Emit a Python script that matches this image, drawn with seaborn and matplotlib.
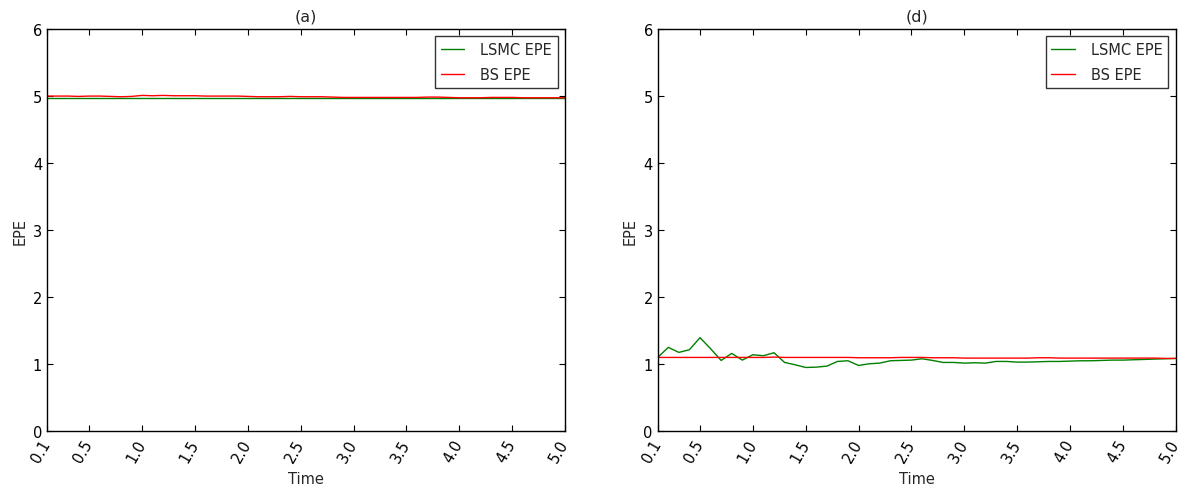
import numpy as np
import pandas as pd
import seaborn as sns
import matplotlib
matplotlib.use("Agg")
import matplotlib.pyplot as plt

# ---- data ----
time = [0.1, 0.2, 0.3, 0.4, 0.5, 0.6, 0.7, 0.8, 0.9, 1.0,
        1.1, 1.2, 1.3, 1.4, 1.5, 1.6, 1.7, 1.8, 1.9, 2.0,
        2.1, 2.2, 2.3, 2.4, 2.5, 2.6, 2.7, 2.8, 2.9, 3.0,
        3.1, 3.2, 3.3, 3.4, 3.5, 3.6, 3.7, 3.8, 3.9, 4.0,
        4.1, 4.2, 4.3, 4.4, 4.5, 4.6, 4.7, 4.8, 4.9, 5.0]

lsmc_a = [4.965] * 10 + [4.965] * 10 + [4.965] * 10 + [4.965] * 10 + [4.965] * 10
bs_a = [5.000, 5.000, 5.000, 4.995, 5.000, 5.000, 4.995, 4.990, 4.995, 5.010,
        5.005, 5.010, 5.005, 5.005, 5.005, 5.000, 5.000, 5.000, 5.000, 4.995,
        4.990, 4.990, 4.990, 4.995, 4.990, 4.990, 4.990, 4.985, 4.980, 4.980,
        4.980, 4.980, 4.980, 4.980, 4.980, 4.980, 4.985, 4.985, 4.980, 4.975,
        4.975, 4.975, 4.980, 4.980, 4.980, 4.975, 4.975, 4.975, 4.975, 4.975]

lsmc_d = [1.100, 1.250, 1.175, 1.215, 1.395, 1.230, 1.055, 1.160, 1.060, 1.140,
          1.125, 1.170, 1.025, 0.990, 0.950, 0.955, 0.970, 1.040, 1.050, 0.980,
          1.005, 1.015, 1.050, 1.055, 1.060, 1.080, 1.055, 1.025, 1.025, 1.015,
          1.020, 1.015, 1.040, 1.040, 1.030, 1.030, 1.035, 1.040, 1.040, 1.045,
          1.050, 1.050, 1.055, 1.060, 1.060, 1.065, 1.070, 1.075, 1.080, 1.085]
bs_d = [1.100, 1.100, 1.100, 1.100, 1.100, 1.100, 1.100, 1.100, 1.100, 1.100,
        1.100, 1.105, 1.100, 1.100, 1.100, 1.100, 1.100, 1.100, 1.100, 1.095,
        1.095, 1.095, 1.095, 1.100, 1.100, 1.100, 1.095, 1.095, 1.095, 1.090,
        1.090, 1.090, 1.090, 1.090, 1.090, 1.090, 1.095, 1.095, 1.090, 1.090,
        1.090, 1.090, 1.090, 1.090, 1.090, 1.090, 1.090, 1.090, 1.085, 1.085]

titles = ["(a)", "(d)"]
series_labels = ["LSMC EPE", "BS EPE"]
xtick_vals = [0.1, 0.5, 1.0, 1.5, 2.0, 2.5, 3.0, 3.5, 4.0, 4.5, 5.0]
xtick_labels = ["0.1", "0.5", "1.0", "1.5", "2.0", "2.5", "3.0", "3.5", "4.0", "4.5", "5.0"]
ytick_vals = [0, 1, 2, 3, 4, 5, 6]

sns.set_style("ticks", {
    "xtick.direction": "in", "ytick.direction": "in",
    "xtick.top": True, "ytick.right": True,
    "axes.edgecolor": "black",
})
plt.rcParams["font.family"] = ["DejaVu Sans"]
plt.rcParams["font.size"] = 10

fig, axes = plt.subplots(1, 2, figsize=(11.84, 4.85), dpi=100)
fig.subplots_adjust(left=0.0397, right=0.993, top=0.938, bottom=0.109, wspace=0.179)

panels = [(lsmc_a, bs_a), (lsmc_d, bs_d)]
colors = ["green", "red"]

for ax, title, (lsmc, bs) in zip(axes, titles, panels):
    df = pd.DataFrame({"Time": time, series_labels[0]: lsmc, series_labels[1]: bs})
    for lab, col in zip(series_labels, colors):
        sns.lineplot(data=df, x="Time", y=lab, ax=ax, color=col, label=lab, linewidth=1.0)
    ax.set_xlim(0.1, 5.0)
    ax.set_ylim(0, 6)
    ax.set_xticks(xtick_vals)
    ax.set_xticklabels(xtick_labels, rotation=60, ha="right", va="center",
                       rotation_mode="anchor", fontsize=10.5)
    ax.set_yticks(ytick_vals)
    ax.tick_params(axis="y", labelsize=10.5)
    ax.tick_params(top=True, right=True, direction="in", length=4, width=0.8, colors="black")
    ax.tick_params(axis="x", pad=7)
    ax.set_xlabel("Time", fontsize=10.5)
    ax.set_ylabel("EPE", fontsize=10.5)
    ax.set_title(title, fontsize=11.5)
    for sp in ax.spines.values():
        sp.set_visible(True)
        sp.set_linewidth(1.0)
        sp.set_color("black")
    leg = ax.legend(loc="upper right", fancybox=False, edgecolor="black",
                    fontsize=10.5, handlelength=1.6, handletextpad=1.1,
                    labelspacing=0.65, borderaxespad=0.5)
    leg.get_frame().set_linewidth(1.0)

fig.savefig("out.png", dpi=100, facecolor="white")
